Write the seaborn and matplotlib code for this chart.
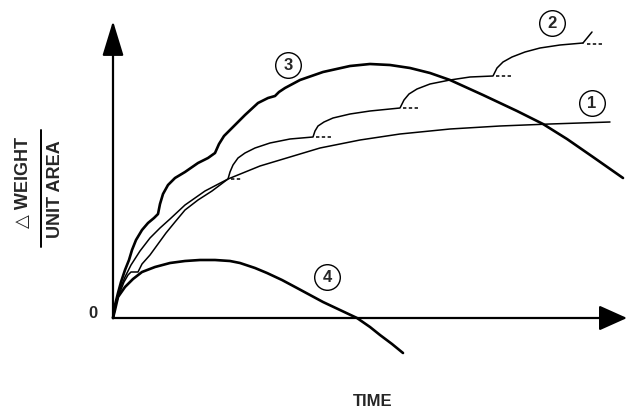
import matplotlib
matplotlib.use("Agg")
import matplotlib.pyplot as plt
import seaborn as sns
import numpy as np

# ---- data (time, weight) ----
c1_t = [0, 3, 7, 12, 18, 27, 37, 47, 57, 72, 92, 115, 147, 177, 207, 247, 287, 337, 387, 437, 497]
c1_w = [0, 15, 29, 41, 53, 67, 80, 90, 99, 113, 127, 139, 152, 161, 170, 178, 184, 189, 192, 194, 196]

# curve 2: successive growth spurts (solid), with dashed continuations
c2_t = [0, 3, 7, 11, 15, 18, 25,
        29, 37, 45, 53, 62, 72, 85, 99, 115,
        117, 120, 125, 132, 142, 157, 177, 200,
        202, 205, 211, 220, 237, 257, 287,
        291, 296, 304, 317, 337, 357, 380,
        384, 390, 399, 412, 427, 447, 470]
c2_w = [0, 14, 26, 36, 43, 46, 46,
        54, 63, 74, 85, 96, 108, 118, 127, 139,
        146, 153, 160, 165, 170, 175, 179, 181,
        187, 192, 196, 200, 204, 207, 210,
        218, 224, 229, 234, 238, 241, 242,
        250, 256, 261, 266, 270, 273, 275]
c2_tick_t = [470, 479]
c2_tick_w = [275, 286]
dash_t0 = [118, 203, 290, 383, 474]
dash_t1 = [129, 220, 307, 400, 491]
dash_w = [139, 181, 210, 242, 274]

c3_t = [0, 2, 5, 8, 12, 16, 19, 23, 29, 35, 41, 45, 47, 50, 55, 62, 72, 85, 95, 102,
        106, 111, 120, 132, 145, 155, 162, 166, 172, 187, 210, 237, 257, 277, 297,
        317, 337, 370, 404, 430, 454, 480, 510]
c3_w = [0, 13, 25, 36, 48, 58, 68, 78, 88, 95, 100, 104, 114, 124, 133, 140, 146, 155, 160, 165,
        174, 182, 191, 203, 215, 220, 222, 226, 230, 238, 246, 252, 254, 253, 250,
        245, 238, 223, 207, 194, 179, 161, 140]

c4_t = [0, 2, 5, 12, 20, 29, 42, 57, 72, 87, 102, 117, 127, 142, 154, 169, 184, 197, 210,
        227, 244, 257, 267, 279, 290]
c4_w = [0, 8, 21, 31, 39, 46, 51, 55, 57, 58, 58, 57, 55, 50, 45, 38, 30, 23, 16,
        8, 0, -9, -17, -26, -35]

labels = ["1", "2", "3", "4"]
label_t = [479, 439, 175, 214]
label_w = [215, 295, 253, 41]

# ---- figure ----
sns.set_theme(style="white")
plt.rcParams["font.family"] = ["Liberation Sans", "DejaVu Sans"]
plt.rcParams["lines.solid_joinstyle"] = "round"
plt.rcParams["lines.solid_capstyle"] = "round"

fig = plt.figure(figsize=(6.28, 4.12), dpi=100)
ax = fig.add_axes([0, 0, 1, 1])
ax.set_xlim(-113, 515)
ax.set_ylim(-94, 318)
ax.axis("off")

thin = 1.1
thick = 1.9
sns.lineplot(x=c1_t, y=c1_w, sort=False, estimator=None, color="black", lw=thin, ax=ax)
sns.lineplot(x=c2_t, y=c2_w, sort=False, estimator=None, color="black", lw=thin, ax=ax)
sns.lineplot(x=c2_tick_t, y=c2_tick_w, sort=False, estimator=None, color="black", lw=thin, ax=ax)
for a, b, w in zip(dash_t0, dash_t1, dash_w):
    ax.plot([a, b], [w, w], color="black", lw=thin, ls=(0, (2.2, 1.6)))
sns.lineplot(x=c3_t, y=c3_w, sort=False, estimator=None, color="black", lw=thick, ax=ax)
sns.lineplot(x=c4_t, y=c4_w, sort=False, estimator=None, color="black", lw=thick, ax=ax)

# axes with arrowheads
ax.annotate("", xy=(0, 297), xytext=(0, 0),
            arrowprops=dict(arrowstyle="-|>,head_length=1.8,head_width=0.55",
                            lw=1.6, color="black", shrinkA=0, shrinkB=0))
ax.annotate("", xy=(514, 0), xytext=(0, 0),
            arrowprops=dict(arrowstyle="-|>,head_length=1.45,head_width=0.65",
                            lw=1.6, color="black", shrinkA=0, shrinkB=0))

# circled curve numbers
ax.scatter(label_t, label_w, s=340, facecolor="white", edgecolor="black", lw=1.0, zorder=5)
for lab, t, w in zip(labels, label_t, label_w):
    ax.text(t, w, lab, ha="center", va="center", fontsize=12, fontweight="bold", zorder=6)

ax.text(-20, 5, "0", ha="center", va="center", fontsize=12, fontweight="bold")
ax.text(260, -84, "TIME", ha="center", va="center", fontsize=12, fontweight="bold")
ax.text(-90, 136, "\u25b3 WEIGHT", ha="center", va="center", rotation=90,
        fontsize=13, fontweight="bold")
ax.text(-58, 129, "UNIT AREA", ha="center", va="center", rotation=90,
        fontsize=13, fontweight="bold")
ax.plot([-72, -72], [71, 188], color="black", lw=1.4)

fig.savefig("out.png", dpi=100)
